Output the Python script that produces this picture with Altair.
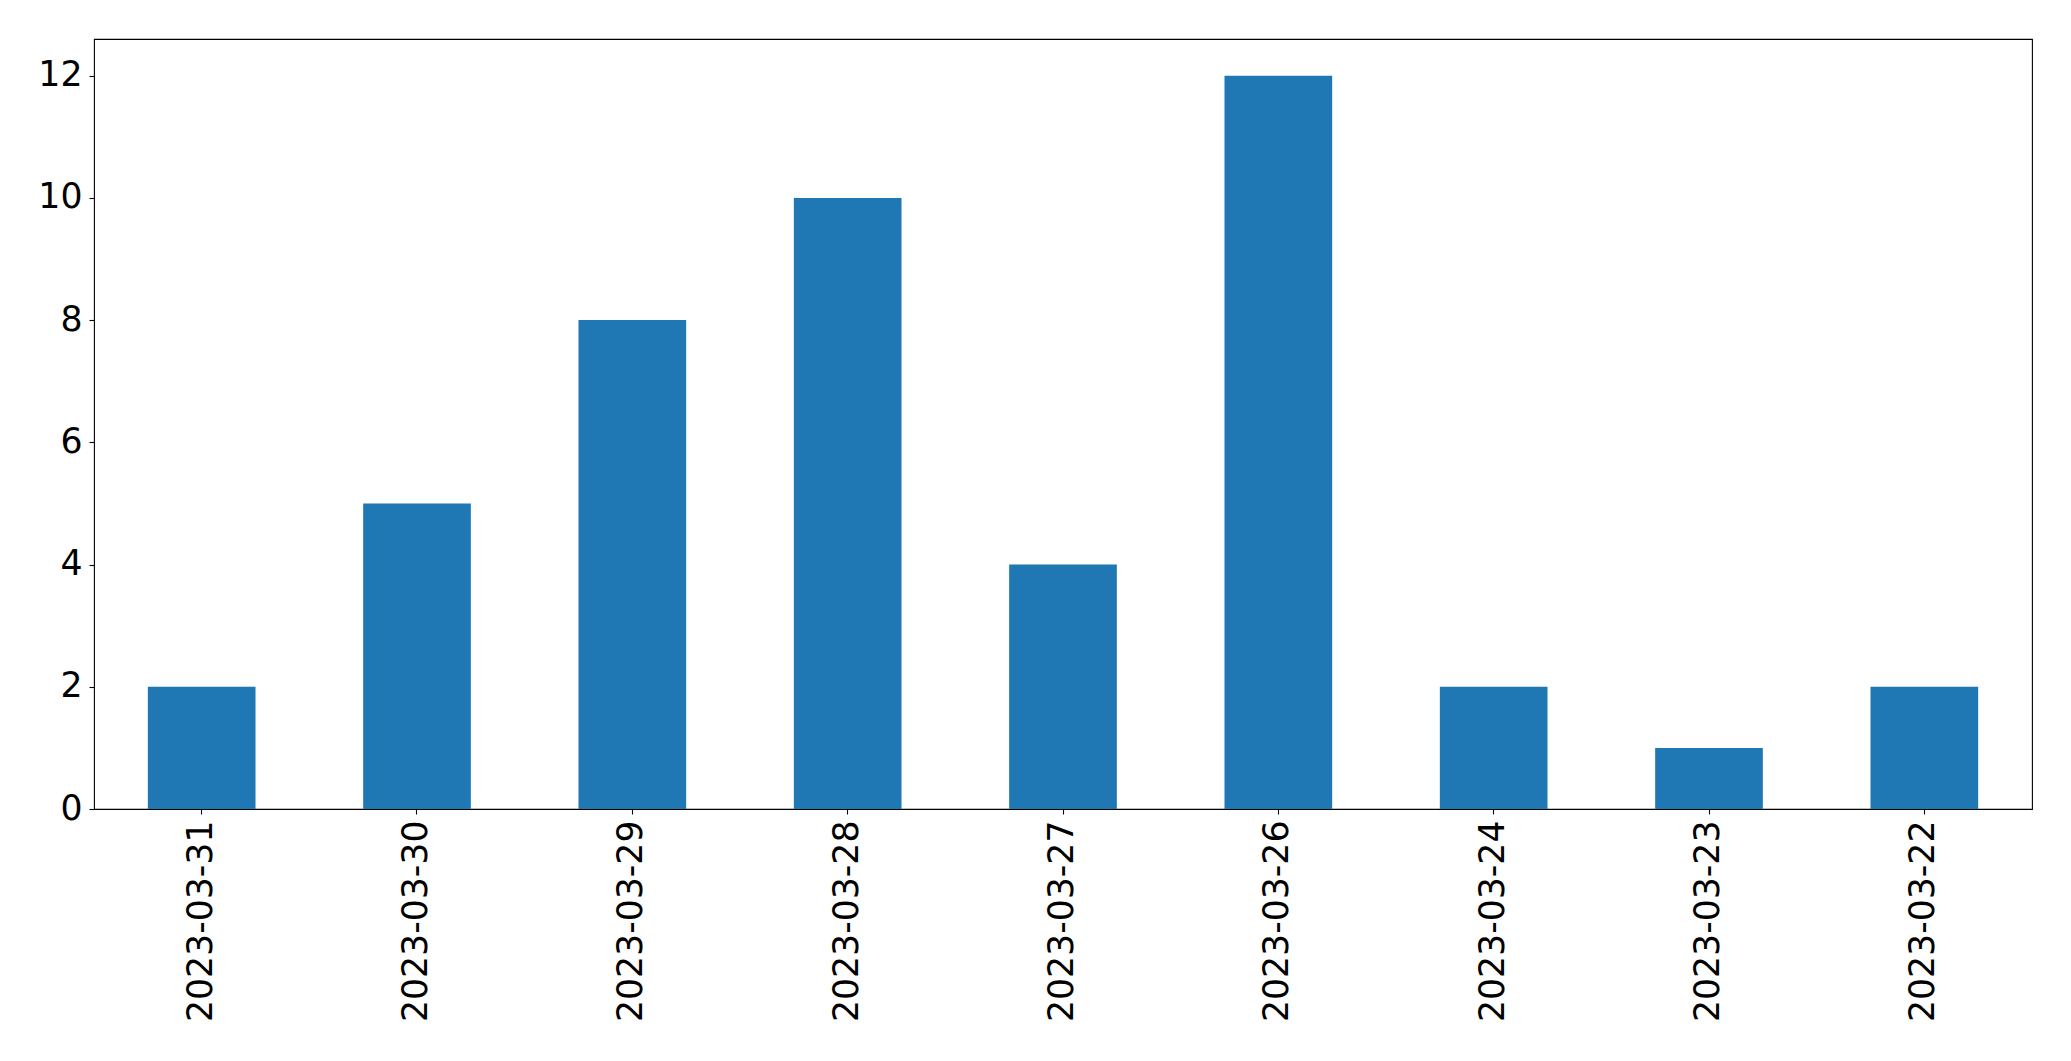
import altair as alt
import pandas as pd

dates = ["2023-03-31", "2023-03-30", "2023-03-29", "2023-03-28", "2023-03-27",
         "2023-03-26", "2023-03-24", "2023-03-23", "2023-03-22"]
counts = [2, 5, 8, 10, 4, 12, 2, 1, 2]
y_ticks = [0, 2, 4, 6, 8, 10, 12]

df = pd.DataFrame({"date": dates, "count": counts})

FONT = "DejaVu Sans"
FS = 34.7

chart = alt.Chart(df).mark_bar(color="#1f77b4").encode(
    x=alt.X("date:N", sort=None, title=None,
            scale=alt.Scale(paddingInner=0.5, paddingOuter=0.25),
            axis=alt.Axis(labelAngle=-90, labelFont=FONT, labelFontSize=FS,
                          labelColor="black", tickColor="black", tickSize=5,
                          tickWidth=1.1, domain=False, labelPadding=6,
                          labelLimit=0,
                          labelAlign="right", labelBaseline="middle")),
    y=alt.Y("count:Q", title=None,
            scale=alt.Scale(domain=[0, 12.6], nice=False, zero=True),
            axis=alt.Axis(values=y_ticks, labelFont=FONT, labelFontSize=FS,
                          labelColor="black", tickColor="black", tickSize=5,
                          tickWidth=1.1, domain=False, grid=False, labelPadding=7,
                          format="d")),
).properties(
    width=1938, height=770,
    autosize=alt.AutoSizeParams(type="none"),
    padding={"left": 86, "top": 31, "right": 30, "bottom": 230},
).configure(
    background="white",
    view=alt.ViewConfig(stroke="black", strokeWidth=1.1, fill="white"),
)

chart.save("out.html", embed_options={"renderer": "svg", "actions": False})
